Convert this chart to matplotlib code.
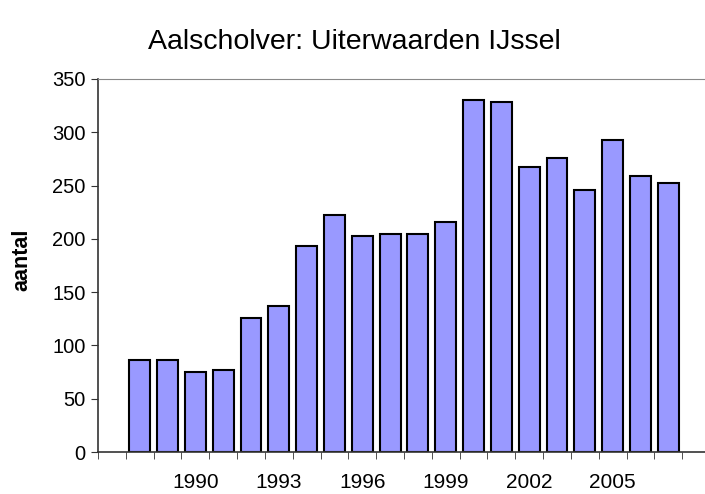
import matplotlib
matplotlib.use('Agg')
import matplotlib.pyplot as plt
import numpy as np

# categorieen 1987..2008, 1987 en 2008 zonder waarde
years = list(range(1987, 2009))
values = [None, 86, 86, 75, 77, 126, 137, 193, 222, 203, 205, 205, 216,
          330, 328, 267, 276, 246, 293, 259, 252, None]
label_years = [1990, 1993, 1996, 1999, 2002, 2005]

plt.rcParams['font.family'] = ['Liberation Sans', 'DejaVu Sans']

fig = plt.figure(figsize=(7.05, 4.94), dpi=100)
ax = fig.add_axes([98/705, 1-452/494, 612/705, 373/494])

x = np.arange(len(years))
for xi, v in zip(x, values):
    if v is not None:
        ax.bar(xi, v, width=0.75, color='#9999FF', edgecolor='black', linewidth=1.5, zorder=2)

ax.set_xlim(-0.5, len(years) - 0.5)
ax.set_ylim(0, 350)
ax.set_yticks(np.arange(0, 351, 50))

# tick streepjes op de categoriegrenzen, labels in het midden
ax.set_xticks(np.arange(-0.5, len(years), 1), minor=True)
ax.set_xticks([years.index(y) for y in label_years])
ax.set_xticklabels([str(y) for y in label_years])
ax.tick_params(axis='x', which='major', length=0, pad=15, labelsize=15)
ax.tick_params(axis='x', which='minor', length=5, direction='out', color='#333333')
ax.tick_params(axis='y', length=5, direction='out', labelsize=14.5, pad=4, color='#333333')

for s in ['left', 'bottom']:
    ax.spines[s].set_color('#333333')
    ax.spines[s].set_linewidth(1.2)
ax.spines['top'].set_color('#888888')
ax.spines['right'].set_visible(False)

fig.text(22/705, 1-260/494, 'aantal', rotation=90, ha='center', va='center',
         fontsize=15.5, fontweight='bold')
fig.text(354/705, 1-42/494, 'Aalscholver: Uiterwaarden IJssel', ha='center', va='center', fontsize=20.5)

plt.savefig('out.png', dpi=100)
